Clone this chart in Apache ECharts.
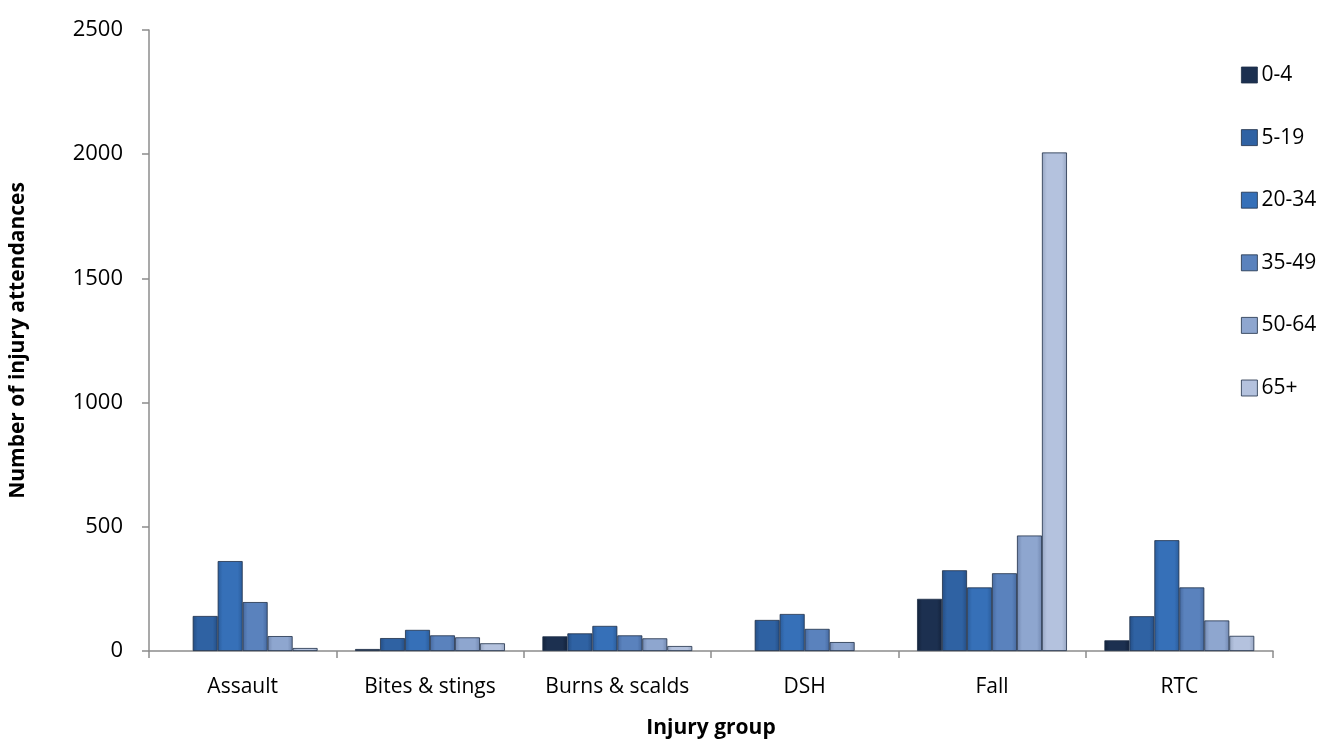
<!DOCTYPE html>
<html>
<head>
<meta charset="utf-8">
<script src="https://cdn.jsdelivr.net/npm/echarts@6/dist/echarts.min.js"></script>
<style>html,body{margin:0;padding:0;background:#fff;}#c{width:1322px;height:749px;}</style>
</head>
<body>
<div id="c"></div>
<script>
const categories = ['Assault', 'Bites & stings', 'Burns & scalds', 'DSH', 'Fall', 'RTC'];
const ageGroups = ['0-4', '5-19', '20-34', '35-49', '50-64', '65+'];
const age0_4   = [0, 8, 59, 0, 210, 43];
const age5_19  = [141, 52, 71, 125, 325, 140];
const age20_34 = [362, 85, 101, 149, 256, 446];
const age35_49 = [197, 63, 63, 89, 313, 256];
const age50_64 = [60, 55, 51, 36, 465, 123];
const age65    = [12, 31, 20, 0, 2007, 61];
const yTicks = { min: 0, max: 2500, interval: 500 };

const seriesData = [age0_4, age5_19, age20_34, age35_49, age50_64, age65];
const baseColors = ['#1c3050', '#2f62a3', '#3670b8', '#5a82bd', '#8ea6cf', '#b4c2de'];
const edgeColors = ['#13223b', '#244e85', '#2a5c9b', '#46699f', '#7288b0', '#97a6c2'];

function grad(i) {
  return new echarts.graphic.LinearGradient(0, 0, 1, 0, [
    { offset: 0, color: edgeColors[i] },
    { offset: 0.2, color: baseColors[i] },
    { offset: 0.8, color: baseColors[i] },
    { offset: 1, color: edgeColors[i] }
  ]);
}

const font = 'Open Sans, Noto Sans, sans-serif';
const chart = echarts.init(document.getElementById('c'), null, { renderer: 'canvas' });
chart.setOption({
  animation: false,
  backgroundColor: '#ffffff',
  grid: { left: 146, right: 49, top: 30, bottom: 98 },
  legend: {
    orient: 'vertical',
    left: 1236,
    top: 58,
    itemWidth: 16,
    itemHeight: 16,
    itemGap: 38.6,
    icon: 'rect',
    data: ageGroups.map((n, i) => ({ name: n, itemStyle: { color: baseColors[i], borderColor: '#1e2e48', borderWidth: 0.8 } })),
    textStyle: { fontFamily: font, fontSize: 21, color: '#000', lineHeight: 24, padding: [0, 0, 0, -1] }
  },
  xAxis: {
    type: 'category',
    data: categories,
    name: 'Injury group',
    nameLocation: 'middle',
    nameGap: 67,
    nameTextStyle: { fontFamily: font, fontSize: 21, fontWeight: 'bold', color: '#000' },
    axisLine: { lineStyle: { color: '#8c8c8c', width: 1.5 } },
    axisTick: { show: true, length: 7, lineStyle: { color: '#8c8c8c', width: 1.5 } },
    axisLabel: { fontFamily: font, fontSize: 21, color: '#000', margin: 26, interval: 0 }
  },
  yAxis: {
    type: 'value',
    min: yTicks.min,
    max: yTicks.max,
    interval: yTicks.interval,
    name: 'Number of injury attendances',
    nameLocation: 'middle',
    nameGap: 120,
    nameTextStyle: { fontFamily: font, fontSize: 21, fontWeight: 'bold', color: '#000' },
    axisLine: { show: true, lineStyle: { color: '#8c8c8c', width: 1.5 } },
    axisTick: { show: true, length: 7, lineStyle: { color: '#8c8c8c', width: 1.5 } },
    splitLine: { show: false },
    axisLabel: { fontFamily: font, fontSize: 22, color: '#000', margin: 26, formatter: v => String(v) }
  },
  series: seriesData.map((d, i) => ({
    name: ageGroups[i],
    type: 'bar',
    data: d.map(v => (v === 0 ? '-' : v)),
    barGap: '0%',
    barCategoryGap: '20%',
    itemStyle: { color: grad(i), borderColor: '#1e2e48', borderWidth: 0.8 }
  }))
});
</script>
</body>
</html>
